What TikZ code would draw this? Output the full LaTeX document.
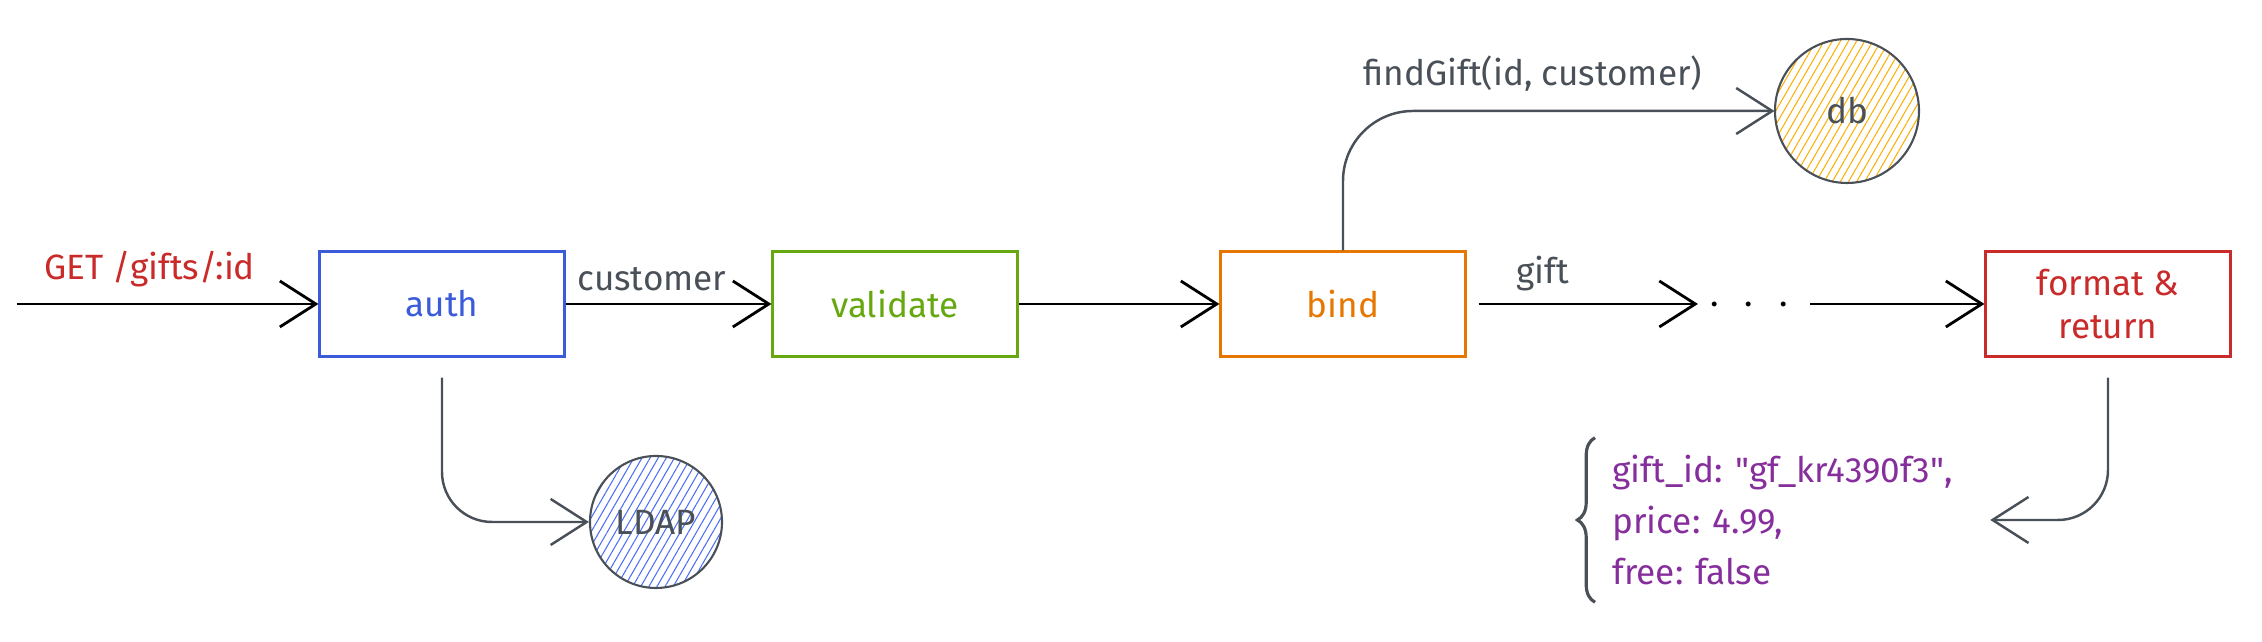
\documentclass[tikz,border=0pt]{standalone}
\usepackage{fontspec}
\setmainfont{Fira Sans}
\usetikzlibrary{arrows.meta,patterns.meta,decorations.pathreplacing}
\definecolor{authblue}{HTML}{3B5BDB}
\definecolor{valgreen}{HTML}{66A80F}
\definecolor{bindorange}{HTML}{E67700}
\definecolor{retred}{HTML}{C92A2A}
\definecolor{jsonpurple}{HTML}{862E9C}
\definecolor{inkgray}{HTML}{495057}
\definecolor{dbyellow}{HTML}{FAB005}
\definecolor{ldapblue}{HTML}{4C6EF5}
\begin{document}
\begin{tikzpicture}[
    font=\fontsize{10}{12}\selectfont,
    box/.style={draw, line width=0.6pt, minimum width=2.45cm, minimum height=1.05cm, align=center},
    conn/.style={line width=0.8pt, -{Straight Barb[length=3.6mm, width=4.6mm]}},
    curved/.style={conn, draw=inkgray, line width=0.7pt},
    store/.style={draw=inkgray, circle, line width=0.6pt, text=inkgray},
    lbl/.style={text=inkgray}
  ]
    \useasboundingbox (0,0) rectangle (22.62,6.42);
    %ingresso richiesta
    \coordinate (req) at (0.17,3.38);
    %blocchi della pipeline
    \node[box, draw=authblue, text=authblue] (auth) at (4.42,3.38) {auth};
    \node[box, draw=valgreen, text=valgreen] (validate) at (8.95,3.38) {validate};
    \node[box, draw=bindorange, text=bindorange] (bind) at (13.43,3.38) {bind};
    \node (dots) at (17.49,3.38) {.\hspace{2.6mm}.\hspace{2.6mm}.};
    \node[box, draw=retred, text=retred] (format) at (21.08,3.38) {format \&\\return};
    %database e ldap
    \node[store, minimum size=1.44cm, pattern={Lines[angle=60, distance=2pt, line width=0.3pt]}, pattern color=dbyellow] (db) at (18.47,5.31) {db};
    \node[store, minimum size=1.32cm, pattern={Lines[angle=60, distance=2pt, line width=0.3pt]}, pattern color=ldapblue] (ldap) at (6.56,1.20) {LDAP};
    %risposta json
    \node[text=jsonpurple, align=left, anchor=west, font=\fontsize{10}{14.5}\selectfont] (json) at (16.0,1.22)
      {gift\_id: \textquotedbl gf\_kr4390f3\textquotedbl,\\price: 4.99,\\free: false};
    \draw[inkgray, line width=0.9pt, decorate, decoration={brace, amplitude=5pt}]
      ([xshift=-0.05cm, yshift=-0.05cm]json.south west) -- ([xshift=-0.05cm, yshift=0.05cm]json.north west);
    %frecce principali e label
    \draw[conn] (req) -- (auth.west) node[pos=0.44, above=1pt, text=retred] {GET /gifts/:id};
    \draw[conn] (auth.east) -- (validate.west) node[pos=0.42, above=0pt, lbl] {customer};
    \draw[conn] (validate.east) -- (bind.west);
    \draw[conn, shorten <=0.12cm] (bind.east) -- (dots.west) node[pos=0.33, above=0pt, lbl] {gift};
    \draw[conn, shorten <=0.1cm] (dots.east) -- (format.west);
    %frecce curve
    \draw[curved, rounded corners=0.7cm] (bind.north) |- (db.west) node[pos=0.72, above=2pt, lbl] {findGift(id, customer)};
    \draw[curved, rounded corners=0.5cm, shorten <=0.2cm] (auth.south) |- (ldap.west);
    \draw[curved, rounded corners=0.5cm, shorten <=0.2cm, shorten >=0.25cm] (format.south) |- (json.east);
\end{tikzpicture}
\end{document}
